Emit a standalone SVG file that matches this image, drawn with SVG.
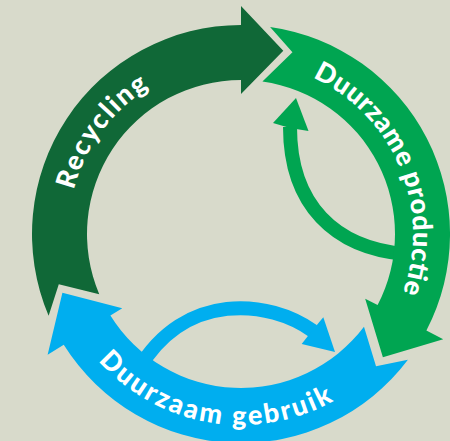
<svg xmlns="http://www.w3.org/2000/svg" width="450" height="441" viewBox="0 0 450 441">
<style>
.lbl{font-family:Lato,"Liberation Sans",sans-serif;font-weight:900;font-size:27px;fill:#ffffff}
.dg{fill:#106837}
.gr{fill:#00a551}
.bl{fill:#00aeef}
.gs{fill:none;stroke:#00a551;stroke-width:14}
.bs{fill:none;stroke:#00aeef;stroke-width:14}
</style>
<defs>
<path id="pRec" d="M97.57,330.04 A172,172 0 0 1 289.84,69.07"/>
<path id="pProd" d="M232.75,62.20 A172,172 0 0 1 357.75,360.31"/>
<path id="pGeb" d="M53.10,268.14 A191,191 0 0 0 406.91,328.64"/>
</defs>
<rect width="450" height="441" fill="#d8dacb"/>
<g id="connectors">
<path class="gs" d="M290,127 C290,205 335,248 405,254"/>
<polygon class="gr" points="296,98 308.5,131 290,128 273,123"/>
<path class="bs" d="M138,370 C185,290 270,300 313,331"/>
<polygon class="bl" points="335,352 323.3,317.3 311,332 301.7,344"/>
</g>
<g id="recycling">
<path class="dg" d="M48.62,315.66 A209,209 0 0 1 241,25 L241,6 L283.29,50.82 L241,94 L241,80 A154,154 0 0 0 99.24,294.17 L58.79,284.19 Z"/>
<text class="lbl"><textPath href="#pRec" startOffset="50%" text-anchor="middle" textLength="130" lengthAdjust="spacing">Recycling</textPath></text>
</g>
<g id="duurzame-productie">
<path class="gr" d="M270.09,27.03 A209,209 0 0 1 426.39,330.51 L443.24,339.28 L382.89,357.34 L365.18,298.65 L377.60,305.11 A154,154 0 0 0 262.43,81.50 L292.46,52.14 Z"/>
<text class="lbl"><textPath href="#pProd" startOffset="50%" text-anchor="middle" textLength="256" lengthAdjust="spacing">Duurzame productie</textPath></text>
</g>
<g id="duurzaam-gebruik">
<path class="bl" d="M407.92,359.78 A209,209 0 0 1 63.76,344.75 L47.64,354.82 L62.41,292.72 L122.27,308.19 L110.40,315.61 A154,154 0 0 0 363.99,326.68 L376.03,366.24 Z"/>
<text class="lbl"><textPath href="#pGeb" startOffset="50%" text-anchor="middle" textLength="258" lengthAdjust="spacing">Duurzaam gebruik</textPath></text>
</g>
</svg>
